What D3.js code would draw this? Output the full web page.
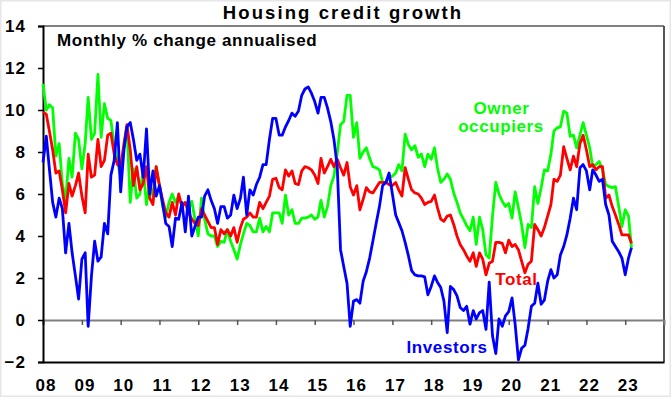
<!DOCTYPE html>
<html lang="en">
<head>
<meta charset="utf-8">
<title>Housing credit growth</title>
<script src="https://d3js.org/d3.v7.min.js"></script>
<style>
  body { margin: 0; background: #fff; }
  text { font-family: "Liberation Sans", Arial, sans-serif; font-weight: bold; }
</style>
</head>
<body>
<script>
// monthly % change annualised, Jan 2008 onwards (one row per year)
var startYear = 2008;
var owner = [
  11.25, 10.0, 10.25, 10.1, 7.8, 8.4, 6.5, 5.7, 7.7, 6.8, 8.9, 8.6,
  7.2, 8.4, 10.6, 8.6, 8.9, 11.7, 8.7, 10.3, 9.6, 9.5, 8.3, 7.6,
  6.8, 8.3, 9.2, 5.6, 7.2, 5.8, 6.0, 7.2, 5.5, 6.5, 5.9, 7.3,
  6.4, 5.4, 4.9, 5.6, 6.0, 5.6, 5.9, 5.4, 5.6, 5.25, 5.65, 4.8,
  4.0, 5.8, 4.8, 4.1, 4.0, 4.0, 3.5, 3.75, 3.7, 4.3, 3.75, 3.35,
  2.9, 3.6, 4.1, 4.6, 4.5, 4.2, 4.2, 4.85, 4.2, 4.45, 4.2, 5.1,
  5.1, 5.1, 4.6, 5.95, 5.0, 5.25, 4.6, 4.6, 4.85, 4.85, 4.9, 5.0,
  4.8, 4.9, 5.7, 4.9, 5.4, 6.4, 6.85, 7.95, 9.3, 9.45, 10.7, 10.7,
  8.7, 9.4, 7.7, 8.0, 8.2, 7.7, 7.3, 7.25, 7.15, 6.55, 6.55, 6.8,
  6.85, 7.0, 7.4, 7.1, 8.85, 8.35, 8.1, 8.3, 7.75, 7.9, 7.3, 7.9,
  7.65, 8.2, 7.25, 6.55, 6.7, 6.95, 6.7, 6.05, 5.6, 5.1, 4.8, 4.5,
  4.25, 4.9, 3.6, 4.9, 4.3, 3.1, 2.95, 4.95, 6.55, 6.0, 5.65, 5.4,
  5.55, 4.85, 6.1, 5.35, 4.55, 3.45, 4.55, 4.4, 6.35, 5.55, 6.3, 7.15,
  7.1, 7.9, 9.0, 9.15, 9.2, 9.95, 9.85, 8.75, 8.8, 8.2, 8.8, 9.4,
  8.8, 8.2, 7.3, 7.4, 7.55, 7.15, 6.45, 6.35, 6.3, 6.35, 5.4, 4.45,
  5.25, 4.95, 3.45
];
var total = [
  9.9, 9.8, 9.0, 8.1, 7.0, 7.1, 6.2, 5.1, 6.5, 5.9, 6.4, 7.0,
  5.9, 5.1, 7.9, 6.8, 6.9, 8.6, 7.3, 7.6, 8.8, 8.9, 7.9, 7.4,
  7.3, 8.4, 9.3, 8.1, 6.4, 7.3, 6.2, 6.5, 7.3, 5.8, 5.5, 7.3,
  6.4, 5.7, 5.1, 4.9, 5.6, 5.0, 6.0, 5.4, 5.6, 5.1, 4.8, 4.6,
  4.5, 5.3, 5.0, 4.7, 4.4, 4.4, 3.6, 4.3, 4.1, 4.3, 4.0, 4.4,
  3.7, 4.4, 4.8, 4.9, 5.1, 4.9, 4.9, 5.6, 5.3, 5.6, 5.9, 6.7,
  6.75, 6.3, 6.2, 7.15, 6.85, 7.1, 6.5, 6.45, 7.1, 7.3, 7.25, 7.15,
  6.9, 6.5, 7.7, 7.0, 7.3, 7.65, 7.3, 7.65, 7.25, 6.9, 7.5, 6.35,
  5.95, 6.4, 5.25, 5.75, 6.3, 6.1, 6.05, 6.3, 6.55, 6.55, 6.55, 6.45,
  6.4, 6.55, 6.2, 5.9, 7.25, 6.7, 6.2, 6.05, 6.0, 5.8, 5.5, 5.6,
  5.65, 5.95, 5.35, 4.8, 4.7, 4.95, 5.0, 4.55, 4.0, 3.6, 3.35, 3.05,
  2.8, 3.2, 2.55, 3.2, 2.9, 2.15, 2.7, 2.8, 3.7, 3.7, 3.65, 3.2,
  3.8, 3.5, 3.6, 3.35, 2.8, 2.25, 2.65, 2.8, 4.55, 4.3, 4.0, 4.4,
  4.95, 5.5, 6.7, 6.6, 6.9, 8.25, 7.7, 7.15, 7.8, 7.3, 8.4, 8.8,
  8.1, 7.3, 7.4, 7.15, 7.3, 7.3, 5.8, 5.95, 5.4, 5.0, 4.55, 4.05,
  4.05, 4.05, 3.65
];
var investors = [
  7.5, 8.75, 7.2, 5.6, 4.9, 5.8, 5.3, 3.2, 4.6, 3.2, 2.1, 1.0,
  2.9, 3.2, -0.3, 2.1, 3.75, 2.8, 3.0, 4.6, 4.1, 6.9, 7.6, 9.4,
  6.1, 8.1, 9.2, 9.4, 8.6, 7.6, 7.9, 6.8, 9.1, 6.0, 7.1, 5.9,
  6.4, 5.5, 4.6, 4.45, 3.5, 4.85, 4.8, 5.6, 4.2, 5.9, 4.0, 4.45,
  4.9, 4.9, 5.9, 6.2, 5.7, 5.3, 4.6, 5.4, 5.4, 4.85, 5.0, 5.95,
  5.3, 5.8, 6.8, 5.0, 6.2, 5.95, 6.45, 6.8, 7.4, 7.4, 8.6, 9.6,
  9.6, 8.8, 8.8, 9.2, 9.5, 9.85, 9.7, 9.95, 10.7, 11.0, 11.1, 10.8,
  10.4, 9.85, 10.6, 10.6, 10.1, 9.45, 8.6, 7.3, 3.35, 2.55, 1.75, -0.3,
  0.9, 0.97, 0.8, 1.85, 2.3, 2.95, 3.75, 4.6, 5.4, 6.4, 6.55, 7.0,
  6.0, 5.0, 4.65, 4.25, 3.7, 3.05, 2.35, 2.15, 2.1, 2.1, 2.05, 1.2,
  1.6, 2.1, 1.8, 1.55, 0.9, -0.6, 1.6, 1.45, 1.15, 0.6, 0.45, 0.65,
  -0.2, 0.45, 0.05, 0.35, 0.45, -0.45, 1.8, -0.75, -1.6, 0.05, -0.3, 0.2,
  0.4, 1.05, -0.2, -1.9, -1.35, -1.2, -0.4, 0.65, 0.8, 1.75, 0.75, 0.95,
  1.85, 2.4, 2.0, 2.15, 3.1, 3.5, 4.05, 4.85, 5.8, 5.25, 7.25, 7.4,
  7.1, 6.2, 7.15, 6.9, 6.6, 6.7, 5.5, 5.0, 3.75, 3.5, 3.25, 2.95,
  2.15, 2.95, 3.45
];
var years = d3.range(2008, 2024);
var yearLabels = ["08","09","10","11","12","13","14","15","16","17","18","19","20","21","22","23"];
var yTicks = [-2, 0, 2, 4, 6, 8, 10, 12, 14];

var w = 671, h = 397;
var plotLeft = 43, plotRight = 664, plotTop = 26, plotBottom = 362;

var svg = d3.select("body").append("svg")
  .attr("width", w)
  .attr("height", h);

// light outer frame
svg.append("rect")
  .attr("x", 0.5).attr("y", 0.5)
  .attr("width", w - 1).attr("height", h - 1)
  .attr("fill", "#fff")
  .attr("stroke", "#e6e6e6")
  .attr("stroke-width", 2);

var x = d3.scaleTime()
  .domain([new Date(2008, 0, 1), new Date(2024, 0, 1)])
  .range([plotLeft, plotRight]);
var y = d3.scaleLinear()
  .domain([-2, 14])
  .range([plotBottom, plotTop]);

function dateOf(i) { return new Date(startYear, i, 1); }

// plot frame: grey top, dark right
svg.append("line")
  .attr("x1", plotLeft).attr("x2", plotRight)
  .attr("y1", plotTop).attr("y2", plotTop)
  .attr("stroke", "#7f7f7f").attr("stroke-width", 2);
svg.append("line")
  .attr("x1", plotRight).attr("x2", plotRight)
  .attr("y1", plotTop).attr("y2", plotBottom)
  .attr("stroke", "#555").attr("stroke-width", 2);

// zero line with year ticks hanging below
var zeroAxis = svg.append("g")
  .attr("transform", "translate(0," + y(0) + ")")
  .call(d3.axisBottom(x)
    .tickValues(years.map(function (yr) { return new Date(yr, 0, 1); }))
    .tickSize(5)
    .tickFormat(""));
zeroAxis.select(".domain").attr("stroke", "#7f7f7f").attr("stroke-width", 2);
zeroAxis.selectAll(".tick line").attr("stroke", "#555").attr("stroke-width", 1.5);

// bottom axis carries the year labels
var xAxis = svg.append("g")
  .attr("transform", "translate(0," + plotBottom + ")")
  .call(d3.axisBottom(x)
    .tickValues(years.map(function (yr) { return new Date(yr, 0, 1); }))
    .tickSize(0)
    .tickPadding(17)
    .tickFormat(function (d, i) { return yearLabels[i]; }));
xAxis.select(".domain").attr("stroke", "#000").attr("stroke-width", 2);
xAxis.selectAll("text")
  .attr("fill", "#000")
  .attr("dx", 2.5)
  .style("font-size", "17px")
  .style("letter-spacing", "1px");

var yAxis = svg.append("g")
  .attr("transform", "translate(" + plotLeft + ",0)")
  .call(d3.axisLeft(y).tickValues(yTicks).tickSize(5).tickPadding(12));
yAxis.select(".domain").attr("stroke", "#000").attr("stroke-width", 2);
yAxis.selectAll(".tick line").attr("stroke", "#000").attr("stroke-width", 1.5);
yAxis.selectAll("text")
  .attr("fill", "#000")
  .style("font-size", "17px")
  .style("letter-spacing", "1px");

var line = d3.line()
  .x(function (d, i) { return x(dateOf(i)); })
  .y(function (d) { return y(d); });

var series = [
  { values: owner, color: "#00ff00" },
  { values: total, color: "#ff0000" },
  { values: investors, color: "#0000ff" }
];

svg.selectAll("path.series")
  .data(series)
  .enter()
  .append("path")
  .attr("class", "series")
  .attr("fill", "none")
  .attr("stroke", function (d) { return d.color; })
  .attr("stroke-width", 2.8)
  .attr("stroke-linejoin", "round")
  .attr("d", function (d) { return line(d.values); });

// titles
svg.append("text")
  .attr("x", 343).attr("y", 18.5)
  .attr("text-anchor", "middle")
  .style("font-size", "18.5px")
  .style("letter-spacing", "2.1px")
  .text("Housing credit growth");
svg.append("text")
  .attr("x", 57).attr("y", 46)
  .style("font-size", "17px")
  .style("letter-spacing", "0.65px")
  .text("Monthly % change annualised");

// series labels
function seriesLabel(txt, cx, by, color) {
  svg.append("text")
    .attr("x", cx).attr("y", by)
    .attr("text-anchor", "middle")
    .attr("fill", color)
    .style("font-size", "17px")
    .style("letter-spacing", "0.6px")
    .text(txt);
}
seriesLabel("Owner", 501.5, 114, "#00ff00");
seriesLabel("occupiers", 501, 131.5, "#00ff00");
seriesLabel("Total", 516.5, 285, "#ff0000");
seriesLabel("Investors", 447, 353, "#0000ff");
</script>
</body>
</html>
